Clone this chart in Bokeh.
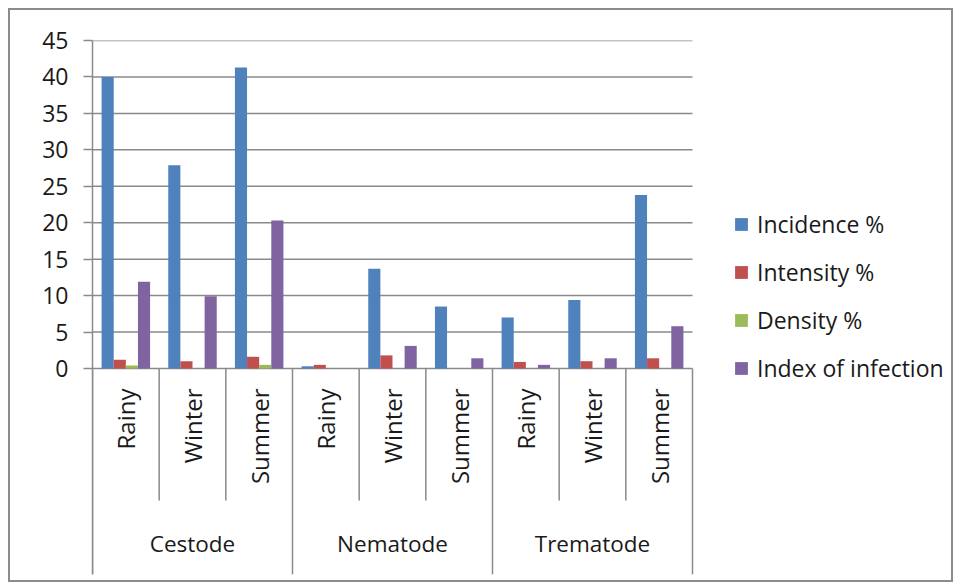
import math
from bokeh.plotting import figure
from bokeh.models import ColumnDataSource, FixedTicker, Range1d, Legend, LegendItem
from bokeh.transform import dodge
from bokeh.core.properties import value
from bokeh.embed import file_html
from bokeh.resources import INLINE

# ---- data ----
groups = ["Cestode", "Nematode", "Trematode"]
seasons = ["Rainy", "Winter", "Summer"]
incidence = [40.0, 27.9, 41.3, 0.3, 13.7, 8.5, 7.0, 9.4, 23.8]
intensity = [1.2, 1.0, 1.6, 0.5, 1.8, 0.0, 0.9, 1.0, 1.4]
density = [0.4, 0.0, 0.5, 0.0, 0.0, 0.0, 0.0, 0.0, 0.0]
index_of_infection = [11.9, 9.9, 20.3, 0.0, 3.1, 1.4, 0.5, 1.4, 5.8]
series_names = ["Incidence %", "Intensity %", "Density %", "Index of infection"]
y_ticks = [0, 5, 10, 15, 20, 25, 30, 35, 40, 45]

# ---- styles ----
colors = ["#4F81BD", "#C0504D", "#9BBB59", "#8064A2"]
FONT = "Open Sans"
GRID = "#8a8a8a"
TEXT = "#1a1a1a"

n_cat = len(groups) * len(seasons)
cat_x = [i + 0.5 for i in range(n_cat)]
cat_labels = [s for g in groups for s in seasons]

src = ColumnDataSource(dict(x=cat_x, inc=incidence, inte=intensity,
                            den=density, idx=index_of_infection))

# layout (pixels, page coordinates; canvas content starts at 10,10)
W, H = 945, 574
frame_left_px, plot_right_px, frame_right_px = 92, 692, 945
frame_top_px, zero_px, frame_bottom_px = 40, 368, 574
px_per_unit = (zero_px - frame_top_px) / 45.0
y_start = -(frame_bottom_px - zero_px) / px_per_unit
px_per_cat = (plot_right_px - frame_left_px) / n_cat
x_end = (frame_right_px - frame_left_px) / px_per_cat

p = figure(width=W, height=H, output_backend="svg", toolbar_location=None,
           x_range=Range1d(0, x_end), y_range=Range1d(y_start, 45),
           x_axis_location=None, min_border_left=frame_left_px - 10,
           min_border_top=frame_top_px - 10,
           min_border_right=10 + W - frame_right_px,
           min_border_bottom=10 + H - frame_bottom_px)
p.margin = (8, 0, 0, 8)
p.styles = {"border": "2px solid #8c8c8c"}
p.outline_line_color = None
p.background_fill_color = "white"
p.border_fill_color = "white"
p.xgrid.visible = False
p.ygrid.visible = False

# horizontal gridlines limited to the category area
p.segment(x0=[0] * len(y_ticks), y0=y_ticks, x1=[n_cat] * len(y_ticks), y1=y_ticks,
          line_color=GRID, line_width=1.5)

ya = p.yaxis[0]
ya.ticker = FixedTicker(ticks=y_ticks)
ya.axis_line_color = GRID
ya.axis_line_width = 1.5
ya.major_tick_line_color = GRID
ya.major_tick_line_width = 1.5
ya.major_tick_in = 0
ya.major_tick_out = 9
ya.minor_tick_line_color = None
ya.major_label_text_font = FONT
ya.major_label_text_font_size = "23px"
ya.major_label_text_color = TEXT
ya.major_label_standoff = 15

bw = 1.0 / 5.5
fields = ["inc", "inte", "den", "idx"]
renderers = []
for k, (f, c) in enumerate(zip(fields, colors)):
    off = (k - 1.5) * bw
    r = p.vbar(x=dodge("x", off, range=p.x_range), top=f, bottom=0, width=bw,
               source=src, fill_color=c, line_color=None)
    renderers.append(r)

# separators of category axis
sub_bottom = -(500 - zero_px) / px_per_unit
sub_x = [i for i in range(1, n_cat) if i % 3 != 0]
grp_x = [i for i in range(0, n_cat + 1, 3)]
p.segment(x0=sub_x, y0=[0] * len(sub_x), x1=sub_x, y1=[sub_bottom] * len(sub_x),
          line_color=GRID, line_width=1.5)
p.segment(x0=grp_x, y0=[0] * len(grp_x), x1=grp_x, y1=[y_start] * len(grp_x),
          line_color=GRID, line_width=1.5)

# season labels
season_y = -(388 - zero_px) / px_per_unit
p.text(x=cat_x, y=[season_y] * n_cat, text=cat_labels, angle=math.pi / 2,
       text_align="right", text_baseline="middle", text_font=value(FONT),
       text_font_size="24px", text_color=TEXT)

# group labels
grp_y = -(543 - zero_px) / px_per_unit
p.text(x=[1.5, 4.5, 7.5], y=[grp_y] * 3, text=groups, text_align="center",
       text_baseline="middle", text_font=value(FONT), text_font_size="22.5px",
       text_color=TEXT)

legend = Legend(items=[LegendItem(label=n, renderers=[r]) for n, r in zip(series_names, renderers)],
                location=(733 - frame_left_px, frame_bottom_px - 384),
                glyph_width=16, glyph_height=16,
                label_text_font=FONT, label_text_font_size="23px",
                label_text_color=TEXT, label_standoff=8, label_height=30,
                spacing=16, padding=0, margin=0, border_line_color=None,
                background_fill_alpha=0)
p.add_layout(legend, "center")

open("out.html", "w").write(file_html(p, INLINE))
